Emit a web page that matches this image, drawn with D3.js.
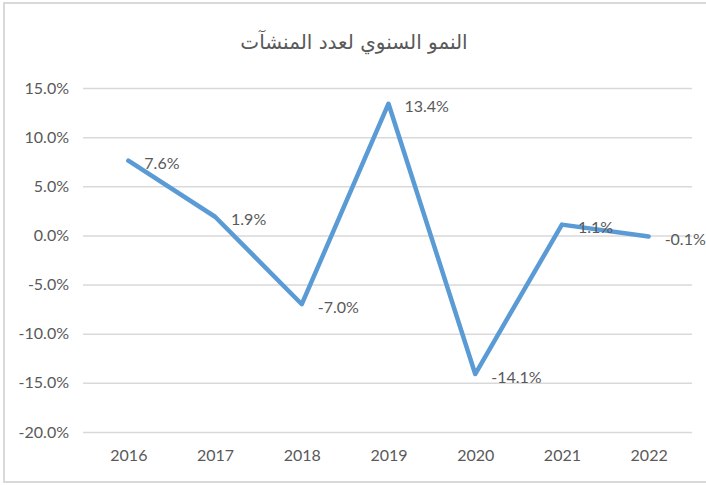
<!DOCTYPE html>
<html>
<head>
<meta charset="utf-8">
<script src="https://cdn.jsdelivr.net/npm/d3@7"></script>
<style>
  html, body { margin: 0; padding: 0; background: #fff; }
  svg { display: block; }
</style>
</head>
<body>
<svg id="chart" width="706" height="485"></svg>
<script>
const title = "النمو السنوي لعدد المنشآت";
const years = ["2016", "2017", "2018", "2019", "2020", "2021", "2022"];
const growth = [0.076, 0.019, -0.070, 0.134, -0.141, 0.011, -0.001];
const yTicks = [0.15, 0.10, 0.05, 0.0, -0.05, -0.10, -0.15, -0.20];

const svg = d3.select("#chart");
const W = 706, H = 485;
const plot = { left: 85, right: 692, top: 88, bottom: 432 };
const textColor = "#595959";
const gridColor = "#d9d9d9";
const lineColor = "#5B9BD5";
const font = "Lato, 'Open Sans', sans-serif";
const pct = v => d3.format(".1%")(v).replace("\u2212", "-");

// outer chart border
svg.append("rect")
  .attr("x", 4).attr("y", 3)
  .attr("width", W + 10).attr("height", 479)
  .attr("fill", "#fff")
  .attr("stroke", gridColor).attr("stroke-width", 2);

const x = d3.scalePoint().domain(years).range([plot.left, plot.right]).padding(0.5);
const y = d3.scaleLinear().domain([-0.20, 0.15]).range([plot.bottom, plot.top]);

// gridlines + y labels
const yAxis = d3.axisLeft(y).tickValues(yTicks)
  .tickSize(-(plot.right - plot.left + 2))
  .tickFormat(pct);
const gy = svg.append("g").attr("transform", `translate(${plot.left - 2},0)`).call(yAxis);
gy.select(".domain").remove();
gy.selectAll(".tick line").attr("stroke", gridColor).attr("stroke-width", 1.5);
gy.selectAll(".tick text")
  .attr("fill", textColor).attr("font-family", font).attr("font-size", 16)
  .attr("x", -14);

// x axis labels
const xAxis = d3.axisBottom(x).tickSize(0).tickPadding(18);
const gx = svg.append("g").attr("transform", `translate(0,${plot.bottom})`).call(xAxis);
gx.select(".domain").remove();
gx.selectAll(".tick text")
  .attr("fill", textColor).attr("font-family", font).attr("font-size", 16);

// line
const data = years.map((yr, i) => ({ yr, v: growth[i] }));
const line = d3.line().x(d => x(d.yr)).y(d => y(d.v));
svg.append("path")
  .datum(data)
  .attr("d", line)
  .attr("fill", "none")
  .attr("stroke", lineColor)
  .attr("stroke-width", 4.5)
  .attr("stroke-linejoin", "round")
  .attr("stroke-linecap", "round");

// data labels
svg.append("g").selectAll("text")
  .data(data)
  .join("text")
  .attr("x", d => x(d.yr) + 16)
  .attr("y", d => y(d.v) + 2)
  .attr("dominant-baseline", "central")
  .attr("fill", textColor)
  .attr("font-family", font)
  .attr("font-size", 16)
  .text(d => pct(d.v));

// title
svg.append("text")
  .attr("x", 354).attr("y", 42)
  .attr("text-anchor", "middle")
  .attr("dominant-baseline", "central")
  .attr("direction", "rtl")
  .attr("fill", textColor)
  .attr("font-family", "'DejaVu Sans', sans-serif")
  .attr("font-size", 20)
  .text(title);
</script>
</body>
</html>
